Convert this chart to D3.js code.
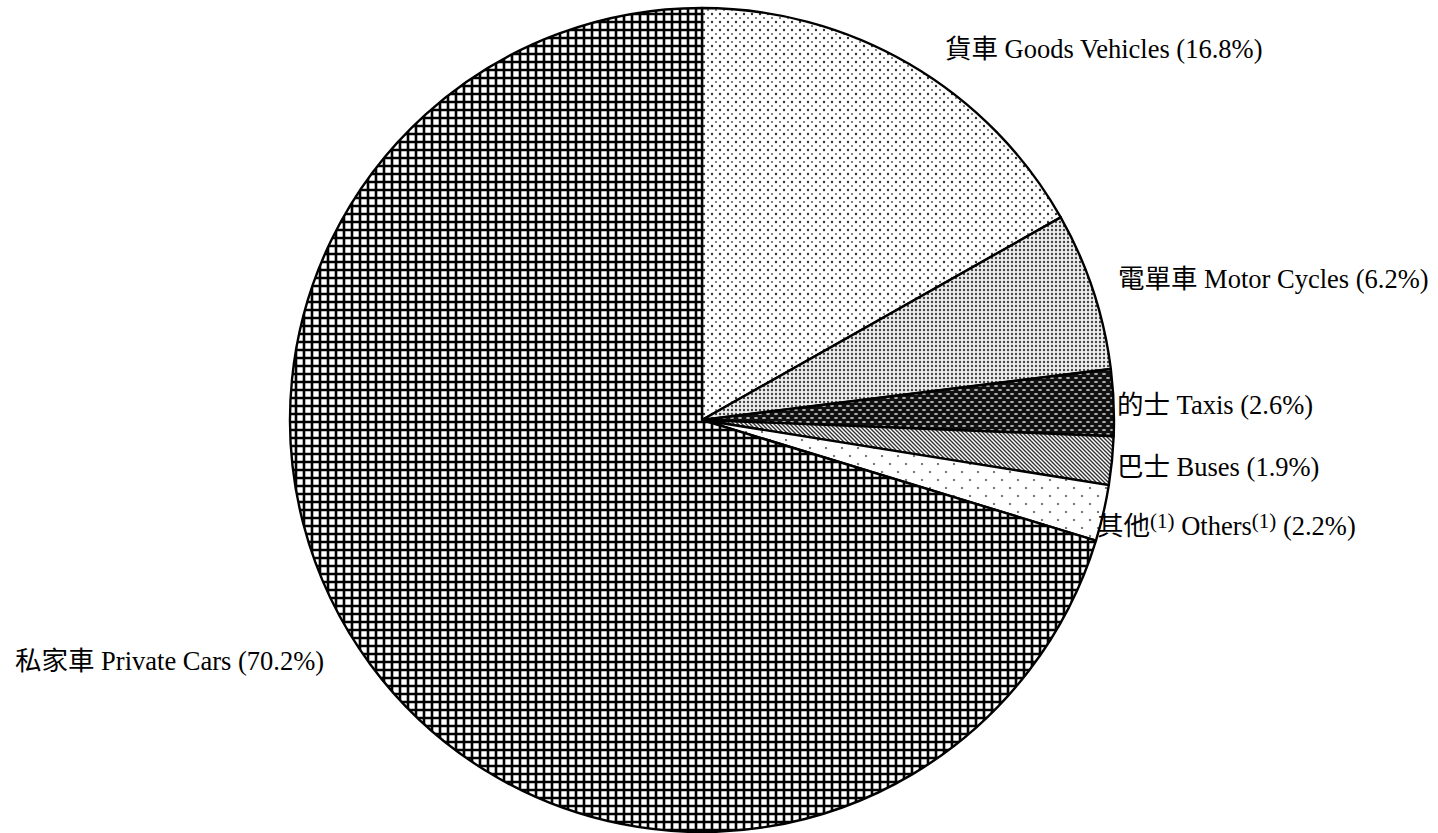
<!DOCTYPE html>
<html><head><meta charset="utf-8">
<script src="https://cdn.jsdelivr.net/npm/d3@7"></script>
<style>body{margin:0;background:#fff}svg{display:block}</style>
</head><body>
<script>
const categories = ["貨車 Goods Vehicles", "電單車 Motor Cycles", "的士 Taxis", "巴士 Buses", "其他 Others", "私家車 Private Cars"];
const keys = ["goods", "motor", "taxi", "bus", "others", "private"];
const values = [16.8, 6.2, 2.6, 1.9, 2.2, 70.2];

const W = 1438, H = 833;
const cx = 702, cy = 420, R = 412;
const svg = d3.select("body").append("svg").attr("width", W).attr("height", H);
const defs = svg.append("defs");

function pat(id, w, h) {
  return defs.append("pattern").attr("id", id).attr("patternUnits", "userSpaceOnUse")
    .attr("width", w).attr("height", h);
}
// goods: sparse staggered dots
let p = pat("p-goods", 8, 8);
p.append("rect").attr("width", 8).attr("height", 8).attr("fill", "#fff");
p.append("circle").attr("cx", 2).attr("cy", 2).attr("r", 1.2).attr("fill", "#333");
p.append("circle").attr("cx", 6).attr("cy", 6).attr("r", 1.1).attr("fill", "#666");
// motor: dense dots
p = pat("p-motor", 4, 4);
p.append("rect").attr("width", 4).attr("height", 4).attr("fill", "#eee");
p.append("circle").attr("cx", 2).attr("cy", 2).attr("r", 1.2).attr("fill", "#444");
// taxi: black with light ellipses
p = pat("p-taxi", 8, 8);
p.append("rect").attr("width", 8).attr("height", 8).attr("fill", "#111");
p.append("ellipse").attr("cx", 2).attr("cy", 2).attr("rx", 2).attr("ry", 1.1).attr("fill", "#bbb");
p.append("ellipse").attr("cx", 6).attr("cy", 6).attr("rx", 2).attr("ry", 1.1).attr("fill", "#bbb");
// bus: diagonal lines
p = pat("p-bus", 4, 4);
p.append("rect").attr("width", 4).attr("height", 4).attr("fill", "#fff");
p.append("path").attr("d", "M-1,-1 L5,5 M-1,3 L1,5 M3,-1 L5,1").attr("stroke", "#333").attr("stroke-width", 1.4);
// others: very sparse dots
p = pat("p-others", 16, 16);
p.append("rect").attr("width", 16).attr("height", 16).attr("fill", "#fff");
p.append("circle").attr("cx", 4).attr("cy", 4).attr("r", 1.1).attr("fill", "#555");
p.append("circle").attr("cx", 12).attr("cy", 12).attr("r", 1.1).attr("fill", "#555");
// private: grid
p = pat("p-private", 8, 8);
p.append("rect").attr("width", 8).attr("height", 8).attr("fill", "#fff");
p.append("path").attr("d", "M2,0 V8 M0,2 H8").attr("stroke", "#000").attr("stroke-width", 2.6);

const data = keys.map((k, i) => ({key: k, label: categories[i], value: values[i]}));
const pie = d3.pie().sort(null).value(d => d.value);
const arc = d3.arc().innerRadius(0).outerRadius(R);
const g = svg.append("g").attr("transform", `translate(${cx},${cy})`);
g.selectAll("path").data(pie(data)).join("path")
  .attr("d", arc)
  .attr("fill", d => `url(#p-${d.data.key})`)
  .attr("stroke", "#000").attr("stroke-width", 2.4).attr("stroke-linejoin", "round");

// labels
const labelPos = {
  goods: [945, 58], motor: [1118, 288], taxi: [1117, 414], bus: [1117, 476],
  others: [1097, 535], private: [15, 670]
};
const font = "'Liberation Serif','Times New Roman','Noto Sans CJK TC',serif";
data.forEach(d => {
  const [x, y] = labelPos[d.key];
  const t = svg.append("text").attr("x", x).attr("y", y)
    .attr("font-family", font).attr("font-size", 26.5).attr("fill", "#000");
  if (d.key === "others") {
    t.append("tspan").text("其他");
    t.append("tspan").attr("font-size", 21).attr("dy", -7).text("(1)");
    t.append("tspan").attr("dy", 7).text(" Others");
    t.append("tspan").attr("font-size", 21).attr("dy", -7).text("(1)");
    t.append("tspan").attr("dy", 7).text(` (${d.value.toFixed(1)}%)`);
  } else {
    t.text(`${d.label} (${d.value.toFixed(1)}%)`);
  }
});
</script>
</body></html>
